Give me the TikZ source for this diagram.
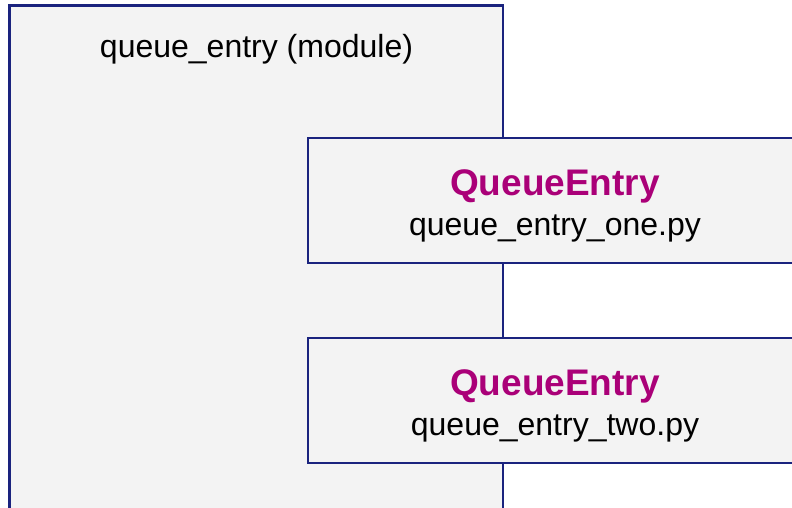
\documentclass[tikz,border=0pt]{standalone}
\usepackage{fontspec}
\setmainfont{Liberation Sans}
\definecolor{boxfill}{HTML}{F3F3F3}
\definecolor{boxline}{HTML}{1A237E}
\definecolor{classname}{RGB}{170,0,120}
\begin{document}
\begin{tikzpicture}[x=1pt,y=-1pt,
  panel/.style={draw=boxline,fill=boxfill,line width=2.3pt},
  plain/.style={font=\fontsize{32}{36}\selectfont,anchor=base,inner sep=0pt},
  cls/.style={font=\fontsize{37}{40}\selectfont\bfseries,text=classname,anchor=base,inner sep=0pt}]
\useasboundingbox (0,0) rectangle (792,508);
% module container
\draw[panel] (9.5,5.5) rectangle (503.3,530);
\node[plain] (modtitle) at (256.5,58) {queue\_entry (module)};
% first class box
\draw[panel] (307.7,137.7) rectangle (802,262.7);
\node[cls] (clsone) at (555,195) {QueueEntry};
\node[plain] (fileone) at (555,235) {queue\_entry\_one.py};
% second class box
\draw[panel] (307.7,337.7) rectangle (802,462.7);
\node[cls] (clstwo) at (555,395) {QueueEntry};
\node[plain] (filetwo) at (555,435) {queue\_entry\_two.py};
\end{tikzpicture}
\end{document}
